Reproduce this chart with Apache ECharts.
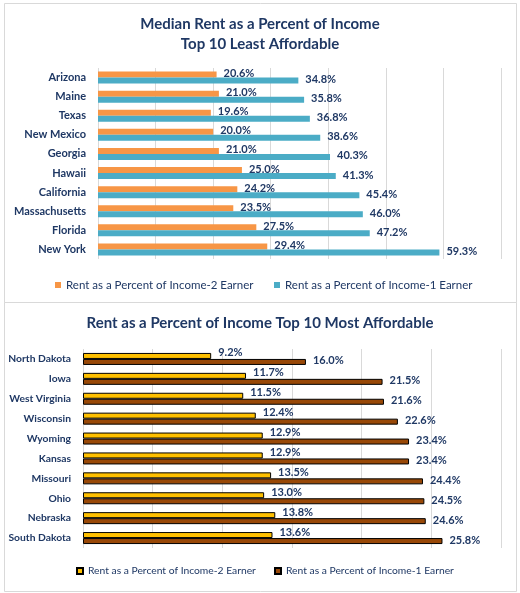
<!DOCTYPE html>
<html><head><meta charset="utf-8">
<script src="https://cdn.jsdelivr.net/npm/echarts@6/dist/echarts.min.js"></script>
<style>html,body{margin:0;padding:0;background:#fff}#c{width:520px;height:593px}</style>
</head><body><div id="c"></div>
<script>
const topCategories = ['Arizona','Maine','Texas','New Mexico','Georgia','Hawaii','California','Massachusetts','Florida','New York'];
const topTwoEarner = [20.6,21.0,19.6,20.0,21.0,25.0,24.2,23.5,27.5,29.4];
const topOneEarner = [34.8,35.8,36.8,38.6,40.3,41.3,45.4,46.0,47.2,59.3];
const botCategories = ['North Dakota','Iowa','West Virginia','Wisconsin','Wyoming','Kansas','Missouri','Ohio','Nebraska','South Dakota'];
const botTwoEarner = [9.2,11.7,11.5,12.4,12.9,12.9,13.5,13.0,13.8,13.6];
const botOneEarner = [16.0,21.5,21.6,22.6,23.4,23.4,24.4,24.5,24.6,25.8];
const seriesNames = ['Rent as a Percent of Income-2 Earner','Rent as a Percent of Income-1 Earner'];
const titleTop = 'Median Rent as a Percent of Income\nTop 10 Least Affordable';
const titleBottom = 'Rent as a Percent of Income Top 10 Most Affordable';

const FONT = 'Lato, "Open Sans", sans-serif';
const NAVY = '#1F3864';
const chart = echarts.init(document.getElementById('c'));
const lbl = (dy) => ({show:true,position:'right',distance:7,offset:[0,dy],color:NAVY,fontFamily:FONT,fontWeight:'bold',fontSize:11,
  formatter:p=>p.value.toFixed(1)+'%'});
const catAxis = (gi, data, fs) => ({type:'category',gridIndex:gi,data:data,inverse:true,
  axisLine:{show:false},axisTick:{show:false},
  axisLabel:{color:NAVY,fontFamily:FONT,fontWeight:'bold',fontSize:fs,margin:12}});
const valAxis = (gi, max, interval) => ({type:'value',gridIndex:gi,min:0,max:max,interval:interval,
  axisLabel:{show:false},axisLine:{show:false},axisTick:{show:false},
  splitLine:{show:true,lineStyle:{color:'#D9D9D9',width:1}}});
const legendItem = (name, left, top, fs) => ({data:[name],left:left,top:top,icon:'rect',itemWidth:6,itemHeight:6,itemGap:4,
  textStyle:{color:NAVY,fontFamily:FONT,fontSize:fs},selectedMode:false,padding:0,formatter:n=>n.trim()});
chart.setOption({
  backgroundColor:'#fff',
  animation:false,
  graphic:[
    {type:'rect',shape:{x:4.5,y:3.5,width:512,height:299},style:{fill:'none',stroke:'#D9D9D9',lineWidth:1}},
    {type:'rect',shape:{x:4.5,y:302.5,width:512,height:289},style:{fill:'none',stroke:'#D9D9D9',lineWidth:1}}
  ],
  title:[
    {text:titleTop,left:'center',top:9,textStyle:{color:NAVY,fontFamily:FONT,fontWeight:'bold',fontSize:15,lineHeight:20}},
    {text:titleBottom,left:'center',top:311,textStyle:{color:NAVY,fontFamily:FONT,fontWeight:'bold',fontSize:15}}
  ],
  legend:[
    legendItem(seriesNames[0],55,279,11.5),
    legendItem(seriesNames[1],274,279,11.5),
    legendItem(seriesNames[0]+' ',76,566,10.3),
    legendItem(seriesNames[1]+' ',274,566,10.3)
  ],
  grid:[
    {left:98,right:19,top:68,height:191,outerBoundsMode:'none'},
    {left:83,right:19,top:349,height:199,outerBoundsMode:'none'}
  ],
  xAxis:[valAxis(0,70,10), valAxis(1,30,5)],
  yAxis:[catAxis(0,topCategories,11), catAxis(1,botCategories,10.3)],
  series:[
    {name:seriesNames[0],type:'bar',xAxisIndex:0,yAxisIndex:0,data:topTwoEarner,barWidth:6,barGap:'0%',
      itemStyle:{color:'#F79646'},label:lbl(-1)},
    {name:seriesNames[1],type:'bar',xAxisIndex:0,yAxisIndex:0,data:topOneEarner,barWidth:6,barGap:'0%',
      itemStyle:{color:'#4BACC6'},label:lbl(-1)},
    {name:seriesNames[0]+' ',type:'bar',xAxisIndex:1,yAxisIndex:1,data:botTwoEarner,barWidth:6,barGap:'0%',
      itemStyle:{color:'#FFC000',borderColor:'#000',borderWidth:1},label:lbl(-3)},
    {name:seriesNames[1]+' ',type:'bar',xAxisIndex:1,yAxisIndex:1,data:botOneEarner,barWidth:6,barGap:'0%',
      itemStyle:{color:'#984807',borderColor:'#000',borderWidth:1},label:lbl(-1)}
  ]
});
</script></body></html>
